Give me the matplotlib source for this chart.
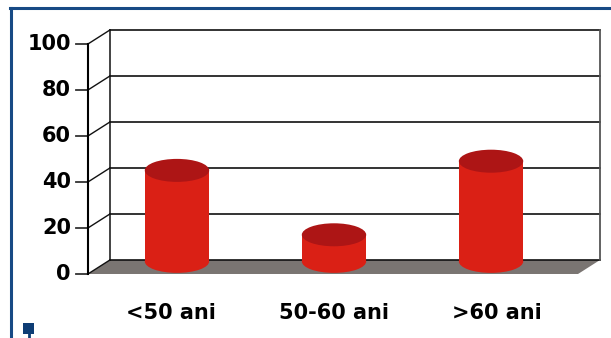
import matplotlib.pyplot as plt
from matplotlib.patches import Polygon, Rectangle, Ellipse

# data
categories = ['<50 ani', '50-60 ani', '>60 ani']
values = [42, 14, 46]
y_ticks = [0, 20, 40, 60, 80, 100]

# colours
body_col = '#da2015'
top_col = '#ad1515'
floor_col = '#7a7572'
grid_col = '#111111'
frame_col = '#174a85'

fig = plt.figure(figsize=(6.11, 3.38), dpi=100)
ax = fig.add_axes([0, 0, 1, 1])
ax.set_xlim(-1.127, 2.764)
ax.set_ylim(-27.83, 119.13)
ax.axis('off')

# fake 3d box
fl, fr = -0.567, 2.554      # front left / right of floor
dx, dy = 0.14, 6.09         # depth offset
ymax = y_ticks[-1]

ax.add_patch(Polygon([(fl, 0), (fr, 0), (fr + dx, dy), (fl + dx, dy)],
                     closed=True, fc=floor_col, ec='none', zorder=1))
ax.add_patch(Rectangle((fl + dx, dy), fr - fl, ymax, fc='white', ec='none', zorder=0))

for t in y_ticks:
    ax.plot([fl + dx, fr + dx], [t + dy, t + dy], color=grid_col, lw=1.2, zorder=2)
    ax.plot([fl, fl + dx], [t, t + dy], color=grid_col, lw=1.0, zorder=2)
    ax.plot([fl - 0.075, fl], [t, t], color='#333333', lw=1.3, zorder=2)
    ax.text(-0.675, t, str(t), ha='right', va='center', fontsize=15,
            fontweight='bold', color='black')

ax.plot([fl, fl], [0, ymax], color='black', lw=1.5, zorder=3)
ax.plot([fl + dx, fl + dx], [dy, ymax + dy], color=grid_col, lw=1.1, zorder=2)
ax.plot([fr + dx, fr + dx], [dy, ymax + dy], color='#555555', lw=1.3, zorder=2)

# cylinders
w = 0.41
eh = 10.0
base = 0.9 * dy
for i, v in enumerate(values):
    top = v + dy / 2
    ax.add_patch(Ellipse((i, base), w, eh, fc=body_col, ec='none', zorder=4))
    ax.add_patch(Rectangle((i - w / 2, base), w, top - base, fc=body_col, ec='none', zorder=4))
    ax.add_patch(Ellipse((i, top), w, eh, fc=top_col, ec='none', zorder=5))
    ax.text(1 + (i - 1) * 1.04, -17, categories[i], ha='center', va='center',
            fontsize=15, fontweight='bold', color='black')

# blue page frame
fig.add_artist(plt.Line2D([10 / 611, 1], [1 - 8 / 338, 1 - 8 / 338],
                          color=frame_col, lw=2.2, transform=fig.transFigure))
fig.add_artist(plt.Line2D([11 / 611, 11 / 611], [0, 1 - 8 / 338],
                          color=frame_col, lw=2.2, transform=fig.transFigure))
fig.add_artist(Rectangle((23 / 611, 4 / 338), 11 / 611, 11 / 338, fc='#0e3d75',
                         ec='none', transform=fig.transFigure))
fig.add_artist(plt.Line2D([28.5 / 611, 28.5 / 611], [0, 5 / 338], color='#0e3d75',
                          lw=2, transform=fig.transFigure))

fig.savefig('out.png', dpi=100)
